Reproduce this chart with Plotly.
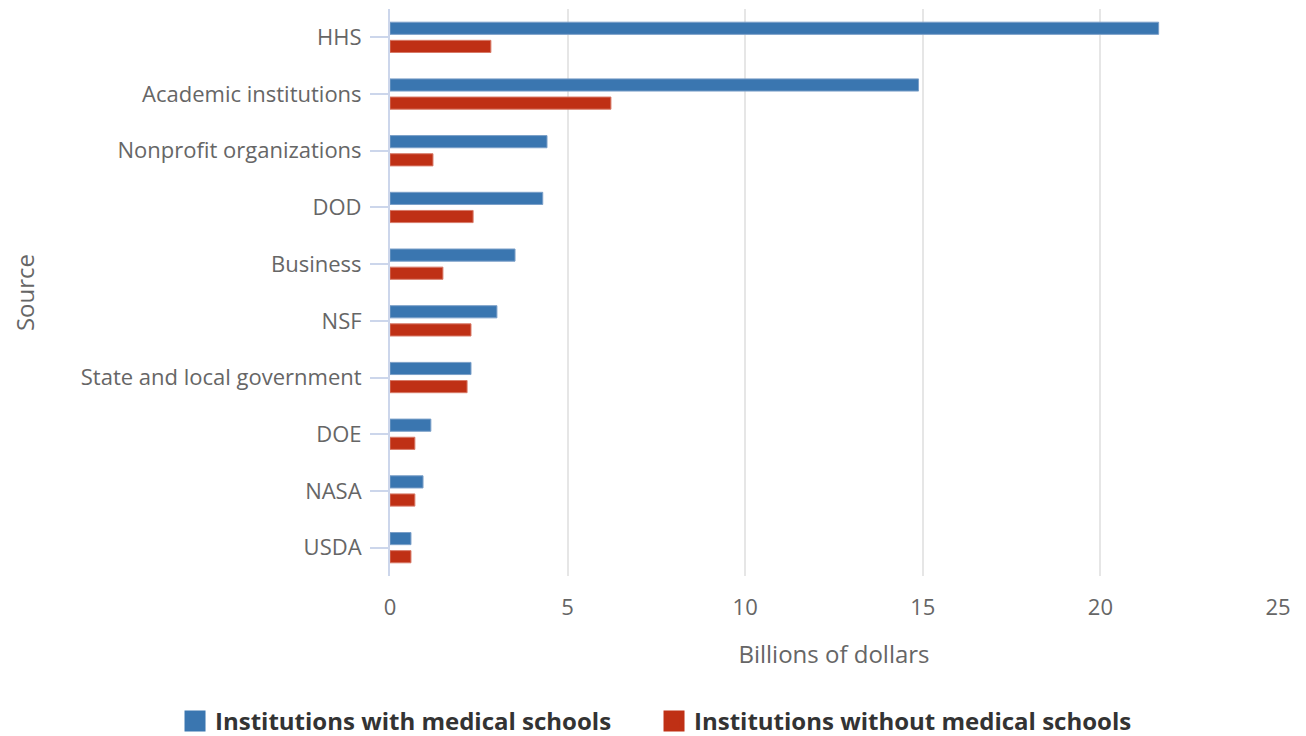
import plotly.graph_objects as go

categories = ["HHS", "Academic institutions", "Nonprofit organizations", "DOD", "Business",
              "NSF", "State and local government", "DOE", "NASA", "USDA"]
with_med = [21.64, 14.88, 4.42, 4.30, 3.52, 3.01, 2.28, 1.15, 0.93, 0.59]
without_med = [2.84, 6.22, 1.21, 2.34, 1.49, 2.28, 2.17, 0.70, 0.70, 0.59]
series_names = ["Institutions with medical schools", "Institutions without medical schools"]
x_ticks = [0, 5, 10, 15, 20, 25]

BLUE = "#3a76b0"
RED = "#bf3015"

fig = go.Figure()
fig.add_trace(go.Bar(y=categories, x=with_med, orientation="h", name=series_names[0],
                     showlegend=False, legendgroup="a",
                     marker=dict(color=BLUE, line=dict(color="#7a9fc8", width=1))))
fig.add_trace(go.Bar(y=categories, x=without_med, orientation="h", name=series_names[1],
                     showlegend=False, legendgroup="b",
                     marker=dict(color=RED, line=dict(color="#d87a68", width=1))))
# legend entries with larger square symbols
for nm, col, grp in [(series_names[0], BLUE, "a"), (series_names[1], RED, "b")]:
    fig.add_trace(go.Scatter(x=[None], y=[None], mode="markers", name=nm, legendgroup=grp,
                             marker=dict(symbol="square", size=16, color=col,
                                         line=dict(color=col, width=5))))

fig.update_layout(
    width=1306, height=736,
    margin=dict(l=382, r=36, t=1, b=167),
    paper_bgcolor="white", plot_bgcolor="white",
    barmode="group", bargap=0.36, bargroupgap=0.33,
    font=dict(family="Open Sans", color="#666666", size=22),
    showlegend=True,
    legend=dict(orientation="h", x=-0.2421, xanchor="left",
                y=-0.2553, yanchor="middle", entrywidth=434, entrywidthmode="pixels",
                font=dict(size=24, color="#333333", family="Open Sans", weight="bold"),
                traceorder="normal", itemsizing="trace"),
    xaxis=dict(range=[0, 25], tickvals=x_ticks, showgrid=True, gridcolor="#e6e6e6", gridwidth=2,
               zeroline=False, showline=False, ticks="", automargin=False,
               ticklabelstandoff=16,
               tickfont=dict(size=22, color="#666666"),
               title=dict(text="Billions of dollars", font=dict(size=24, color="#666666"), standoff=26)),
    yaxis=dict(autorange="reversed", showline=True, linecolor="#ccd6eb", linewidth=2,
               ticks="outside", ticklen=18, tickcolor="#ccd6eb", tickwidth=2, automargin=False,
               tickfont=dict(size=22, color="#666666"), showgrid=False, zeroline=False,
               ticklabelstandoff=4,
               title=dict(text="Source", font=dict(size=24, color="#666666"), standoff=57)),
)
fig.write_html("out.html")
